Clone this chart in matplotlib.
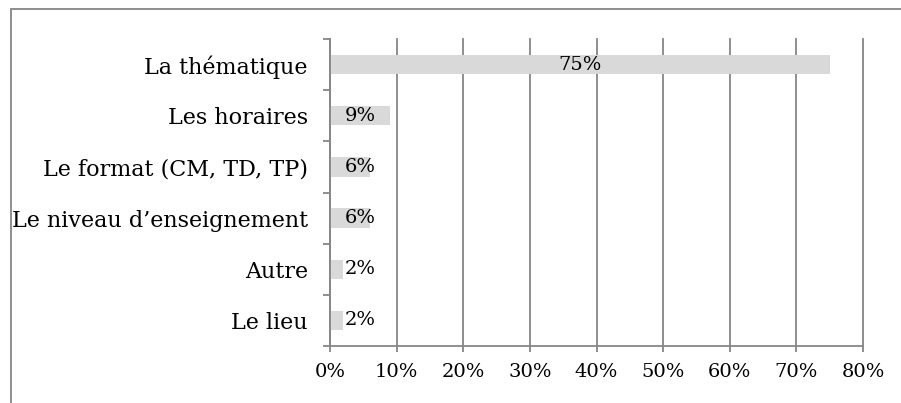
import matplotlib.pyplot as plt
from matplotlib.patches import Rectangle

# données (de haut en bas)
categories = ["La thématique", "Les horaires", "Le format (CM, TD, TP)",
              "Le niveau d\u2019enseignement", "Autre", "Le lieu"]
valeurs = [75, 9, 6, 6, 2, 2]
ticks_x = [0, 10, 20, 30, 40, 50, 60, 70, 80]

gris = "#868686"
plt.rcParams['font.family'] = ['DejaVu Serif']
taille = 14

fig = plt.figure(figsize=(9.01, 4.03), dpi=100)
ax = fig.add_axes([330 / 901, 57 / 403, 533 / 901, 307 / 403])

# cadre extérieur (coupé à droite et en bas)
fig.patches.append(Rectangle((11 / 901, -0.1), 1.2, (403 - 9) / 403 + 0.1,
                             transform=fig.transFigure, fill=False,
                             edgecolor=gris, linewidth=1.3))

y = list(range(len(categories)))
ax.barh(y, valeurs, height=0.38, color="#d9d9d9", zorder=2)

for i, v in enumerate(valeurs):
    x = v / 2 if v > 20 else 4.6
    ax.text(x, i, f"{v}%", ha="center", va="center", fontsize=taille, zorder=3)

ax.set_ylim(len(categories) - 0.5, -0.5)
ax.set_xlim(0, 80)
ax.set_xticks(ticks_x)
ax.set_xticklabels([f"{t}%" for t in ticks_x], fontsize=taille)
ax.set_yticks(y)
ax.set_yticklabels(categories, fontsize=16)
ax.set_yticks([i - 0.5 for i in range(len(categories) + 1)], minor=True)

ax.tick_params(axis="y", which="major", length=0, pad=16)
ax.tick_params(axis="y", which="minor", length=5, width=1.3, color=gris)
ax.tick_params(axis="x", length=4, width=1.3, color=gris, pad=8)

ax.grid(axis="x", color=gris, linewidth=1.3, zorder=1)
for l in ax.get_xgridlines():
    l.set_clip_on(False)
ax.set_axisbelow(True)
for s in ["top", "right"]:
    ax.spines[s].set_visible(False)
for s in ["left", "bottom"]:
    ax.spines[s].set_color(gris)
    ax.spines[s].set_linewidth(1.3)
    ax.spines[s].set_zorder(4)

fig.savefig("out.png", dpi=100)
